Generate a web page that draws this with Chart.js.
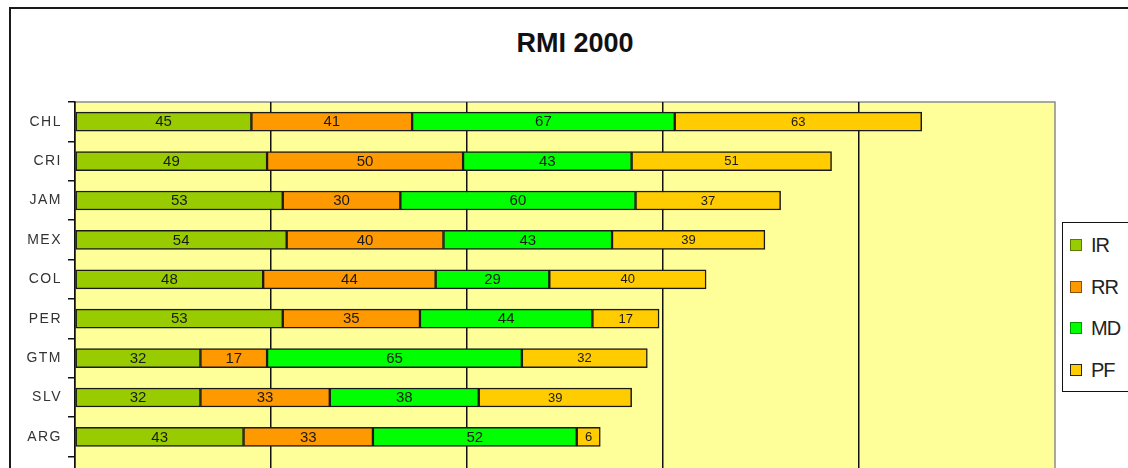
<!DOCTYPE html>
<html>
<head>
<meta charset="utf-8">
<title>RMI 2000</title>
<script src="https://cdn.jsdelivr.net/npm/chart.js@4.4.0/dist/chart.umd.min.js"></script>
<style>
    html, body { margin: 0; padding: 0; width: 1128px; height: 468px; overflow: hidden; background: #fff; }
    body { position: relative; font-family: "Liberation Sans", Arial, sans-serif; }
    #frame { position: absolute; left: 9px; top: 7px; width: 1140px; height: 620px; border: 2px solid #1a1a1a; box-sizing: border-box; }
    #title { position: absolute; left: 9px; width: 1132px; top: 26px; line-height: 34px; text-align: center; font-weight: bold; font-size: 27px; color: #111; }
    #chart { position: absolute; left: 0; top: 0; }
    #legend { position: absolute; left: 1062px; top: 222px; width: 90px; height: 170px; border: 1.5px solid #111; background: #fff; box-sizing: border-box; }
    .item { position: absolute; left: 7px; height: 24px; line-height: 24px; font-size: 20px; letter-spacing: -1px; color: #222; white-space: nowrap; }
    .swatch { display: inline-block; width: 10px; height: 10px; border: 1.5px solid; vertical-align: middle; margin: -3px 9px 0 0; }
</style>
</head>
<body>
<div id="frame"></div>
<div id="title">RMI 2000</div>
<canvas id="chart" width="1150" height="540"></canvas>
<div id="legend"></div>
<script>
// valeurs
const categories = ['CHL', 'CRI', 'JAM', 'MEX', 'COL', 'PER', 'GTM', 'SLV', 'ARG', 'ECU'];
const seriesNames = ['IR', 'RR', 'MD', 'PF'];
const irValues = [45, 49, 53, 54, 48, 53, 32, 32, 43, null];
const rrValues = [41, 50, 30, 40, 44, 35, 17, 33, 33, null];
const mdValues = [67, 43, 60, 43, 29, 44, 65, 38, 52, null];
const pfValues = [63, 51, 37, 39, 40, 17, 32, 39, 6, null];
const xTicks = [0, 50, 100, 150, 200, 250];

const fillColors = ['#99cc00', '#ff9900', '#00ff00', '#ffcc00'];
const edgeColors = ['#5c7a00', '#8a5200', '#009a00', '#222222'];
const labelSizes = [15, 15, 15, 13];
const fontFamily = '"Liberation Sans", Arial, sans-serif';

const plotBackground = {
    id: 'plotBackground',
    beforeDraw(chart) {
        const { ctx, chartArea: a } = chart;
        ctx.save();
        ctx.fillStyle = '#ffff99';
        ctx.fillRect(a.left, a.top, a.right - a.left, a.bottom - a.top);
        ctx.strokeStyle = '#8c8c8c';
        ctx.lineWidth = 1.5;
        ctx.beginPath();
        ctx.moveTo(a.left, a.top);
        ctx.lineTo(a.right, a.top);
        ctx.lineTo(a.right, a.bottom);
        ctx.stroke();
        ctx.restore();
        // espacement des lettres pour les libellés d'axe
        ctx.letterSpacing = '1.5px';
    },
    beforeDatasetsDraw(chart) {
        chart.ctx.letterSpacing = '0px';
    }
};

const valueLabels = {
    id: 'valueLabels',
    afterDatasetsDraw(chart) {
        const ctx = chart.ctx;
        ctx.save();
        ctx.textAlign = 'center';
        ctx.textBaseline = 'middle';
        ctx.fillStyle = '#1a1a1a';
        chart.data.datasets.forEach((ds, i) => {
            const meta = chart.getDatasetMeta(i);
            ctx.font = `${labelSizes[i]}px ${fontFamily}`;
            meta.data.forEach((bar, j) => {
                const v = ds.data[j];
                if (v === null || v === undefined) return;
                const p = bar.getCenterPoint();
                ctx.fillText(String(v), p.x, p.y + 0.5);
            });
        });
        ctx.restore();
    }
};

const seriesData = [irValues, rrValues, mdValues, pfValues];

const chart = new Chart(document.getElementById('chart').getContext('2d'), {
    type: 'bar',
    data: {
        labels: categories,
        datasets: seriesNames.map((name, i) => ({
            label: name,
            data: seriesData[i],
            backgroundColor: fillColors[i],
            borderColor: '#1a1a1a',
            borderWidth: 1.5,
            borderSkipped: false,
            barThickness: 19
        }))
    },
    options: {
        indexAxis: 'y',
        responsive: false,
        animation: false,
        layout: { padding: { top: 102, right: 95, left: 0, bottom: 0 } },
        scales: {
            x: {
                type: 'linear',
                stacked: true,
                min: xTicks[0],
                max: xTicks[xTicks.length - 1],
                afterBuildTicks: scale => { scale.ticks = xTicks.map(v => ({ value: v })); },
                afterFit: scale => { scale.height = 44; },
                grid: {
                    color: c => (c.tick && c.tick.value === 250) ? 'rgba(0,0,0,0)' : '#111',
                    lineWidth: 1.5,
                    tickLength: 6
                },
                border: { display: false },
                ticks: { color: '#333', font: { size: 14, family: fontFamily } }
            },
            y: {
                stacked: true,
                afterFit: scale => { scale.width = 75; },
                grid: {
                    drawOnChartArea: false,
                    offset: true,
                    color: '#111',
                    lineWidth: 1.5,
                    tickLength: 7
                },
                border: { color: '#111', width: 1.5 },
                ticks: {
                    color: '#333',
                    padding: 6,
                    font: { size: 14, family: fontFamily }
                }
            }
        },
        plugins: {
            legend: { display: false },
            title: { display: false },
            tooltip: { enabled: false }
        }
    },
    plugins: [plotBackground, valueLabels]
});

// légende HTML
const legend = document.getElementById('legend');
seriesNames.forEach((name, i) => {
    const item = document.createElement('div');
    item.className = 'item';
    item.style.top = (10 + i * 41.5) + 'px';
    item.innerHTML = `<span class="swatch" style="background:${fillColors[i]};border-color:${edgeColors[i]}"></span>${name}`;
    legend.appendChild(item);
});
</script>
</body>
</html>
